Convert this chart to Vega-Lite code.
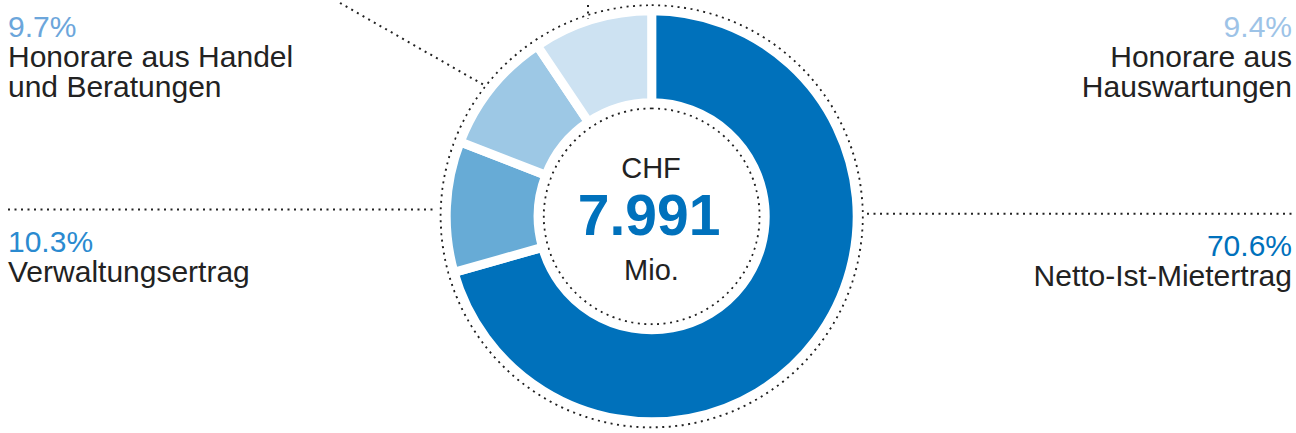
{
  "$schema": "https://vega.github.io/schema/vega-lite/v6.json",
  "width": 1296,
  "height": 433,
  "autosize": {"type": "fit", "contains": "padding"},
  "padding": 0,
  "background": "white",
  "config": {"view": {"stroke": null}, "text": {"font": "Liberation Sans"}},
  "datasets": {
    "revenue": [
      {"category": "Netto-Ist-Mietertrag", "share": 0.706, "label": "Netto-Ist-Mietertrag"},
      {"category": "Verwaltungsertrag", "share": 0.103, "label": "Verwaltungsertrag"},
      {"category": "Honorare aus Handel und Beratungen", "share": 0.097, "label": "Honorare aus Handel\nund Beratungen"},
      {"category": "Honorare aus Hauswartungen", "share": 0.094, "label": "Honorare aus\nHauswartungen"}
    ],
    "total": [{"currency": "CHF", "value": "7.991", "unit": "Mio."}]
  },
  "data": {"name": "revenue"},
  "layer": [
    {
      "transform": [{"filter": "datum.category == 'Netto-Ist-Mietertrag'"}],
      "mark": {"type": "arc", "radius": 211, "theta": 0, "theta2": 6.2832, "filled": false, "stroke": "#222222", "strokeWidth": 2, "strokeDash": [2, 4.5]},
      "encoding": {
        "x": {"datum": 651.7, "type": "quantitative", "scale": {"domain": [0, 1296], "nice": false, "zero": false}, "axis": null},
        "y": {"datum": 221, "type": "quantitative", "scale": {"domain": [0, 433], "nice": false, "zero": false, "reverse": true}, "axis": null}
      }
    },
    {
      "transform": [{"filter": "datum.category == 'Netto-Ist-Mietertrag'"}],
      "mark": {"type": "arc", "radius": 108, "theta": 0, "theta2": 6.2832, "filled": false, "stroke": "#222222", "strokeWidth": 2, "strokeDash": [2, 4.5]},
      "encoding": {
        "x": {"datum": 651.7, "type": "quantitative", "scale": {"domain": [0, 1296], "nice": false, "zero": false}, "axis": null},
        "y": {"datum": 221, "type": "quantitative", "scale": {"domain": [0, 433], "nice": false, "zero": false, "reverse": true}, "axis": null}
      }
    },
    {
      "mark": {"type": "arc", "radius": 205.5, "radius2": 113.5, "stroke": "white", "strokeWidth": 9},
      "encoding": {
        "theta": {"field": "share", "type": "quantitative", "stack": true},
        "order": {"field": "share", "sort": "descending"},
        "color": {
          "field": "category",
          "type": "nominal",
          "scale": {
            "domain": ["Netto-Ist-Mietertrag", "Verwaltungsertrag", "Honorare aus Handel und Beratungen", "Honorare aus Hauswartungen"],
            "range": ["#0071BB", "#67ABD6", "#9DC8E5", "#CDE2F2"]
          },
          "legend": null
        },
        "x": {"datum": 651.7, "type": "quantitative", "scale": {"domain": [0, 1296], "nice": false, "zero": false}, "axis": null},
        "y": {"datum": 221, "type": "quantitative", "scale": {"domain": [0, 433], "nice": false, "zero": false, "reverse": true}, "axis": null}
      }
    },
    {
      "transform": [{"filter": "datum.category == 'Verwaltungsertrag'"}],
      "mark": {"type": "rule", "stroke": "#222222", "strokeWidth": 2, "strokeDash": [2, 4.5]},
      "encoding": {
        "x": {"datum": 8, "type": "quantitative", "scale": {"domain": [0, 1296], "nice": false, "zero": false}, "axis": null},
        "x2": {"datum": 437},
        "y": {"datum": 214, "type": "quantitative", "scale": {"domain": [0, 433], "nice": false, "zero": false, "reverse": true}, "axis": null},
        "y2": {"datum": 214}
      }
    },
    {
      "transform": [{"filter": "datum.category == 'Netto-Ist-Mietertrag'"}],
      "mark": {"type": "rule", "stroke": "#222222", "strokeWidth": 2, "strokeDash": [2, 4.5]},
      "encoding": {
        "x": {"datum": 867, "type": "quantitative", "scale": {"domain": [0, 1296], "nice": false, "zero": false}, "axis": null},
        "x2": {"datum": 1293},
        "y": {"datum": 218.3, "type": "quantitative", "scale": {"domain": [0, 433], "nice": false, "zero": false, "reverse": true}, "axis": null},
        "y2": {"datum": 218.3}
      }
    },
    {
      "transform": [{"filter": "datum.category == 'Honorare aus Handel und Beratungen'"}],
      "mark": {"type": "rule", "stroke": "#222222", "strokeWidth": 2, "strokeDash": [2, 4.5]},
      "encoding": {
        "x": {"datum": 340, "type": "quantitative", "scale": {"domain": [0, 1296], "nice": false, "zero": false}, "axis": null},
        "x2": {"datum": 484},
        "y": {"datum": 0, "type": "quantitative", "scale": {"domain": [0, 433], "nice": false, "zero": false, "reverse": true}, "axis": null},
        "y2": {"datum": 85}
      }
    },
    {
      "transform": [{"filter": "datum.category == 'Honorare aus Hauswartungen'"}],
      "mark": {"type": "rule", "stroke": "#222222", "strokeWidth": 2, "strokeDash": [2, 4.5]},
      "encoding": {
        "x": {"datum": 588, "type": "quantitative", "scale": {"domain": [0, 1296], "nice": false, "zero": false}, "axis": null},
        "x2": {"datum": 588},
        "y": {"datum": 2, "type": "quantitative", "scale": {"domain": [0, 433], "nice": false, "zero": false, "reverse": true}, "axis": null},
        "y2": {"datum": 16}
      }
    },
    {
      "transform": [{"filter": "datum.category == 'Honorare aus Handel und Beratungen'"}],
      "mark": {"type": "text", "align": "left", "baseline": "alphabetic", "fontSize": 30, "color": "#6CA6DB"},
      "encoding": {
        "text": {"field": "share", "type": "quantitative", "format": ".1%"},
        "x": {"datum": 8, "type": "quantitative", "scale": {"domain": [0, 1296], "nice": false, "zero": false}, "axis": null},
        "y": {"datum": 35, "type": "quantitative", "scale": {"domain": [0, 433], "nice": false, "zero": false, "reverse": true}, "axis": null}
      }
    },
    {
      "transform": [{"filter": "datum.category == 'Honorare aus Handel und Beratungen'"}],
      "mark": {"type": "text", "align": "left", "baseline": "alphabetic", "fontSize": 30, "color": "#222222", "lineBreak": "\n", "lineHeight": 30},
      "encoding": {
        "text": {"field": "label", "type": "nominal"},
        "x": {"datum": 8, "type": "quantitative", "scale": {"domain": [0, 1296], "nice": false, "zero": false}, "axis": null},
        "y": {"datum": 66.7, "type": "quantitative", "scale": {"domain": [0, 433], "nice": false, "zero": false, "reverse": true}, "axis": null}
      }
    },
    {
      "transform": [{"filter": "datum.category == 'Honorare aus Hauswartungen'"}],
      "mark": {"type": "text", "align": "right", "baseline": "alphabetic", "fontSize": 30, "color": "#9DC3E7"},
      "encoding": {
        "text": {"field": "share", "type": "quantitative", "format": ".1%"},
        "x": {"datum": 1292, "type": "quantitative", "scale": {"domain": [0, 1296], "nice": false, "zero": false}, "axis": null},
        "y": {"datum": 35, "type": "quantitative", "scale": {"domain": [0, 433], "nice": false, "zero": false, "reverse": true}, "axis": null}
      }
    },
    {
      "transform": [{"filter": "datum.category == 'Honorare aus Hauswartungen'"}],
      "mark": {"type": "text", "align": "right", "baseline": "alphabetic", "fontSize": 30, "color": "#222222", "lineBreak": "\n", "lineHeight": 30},
      "encoding": {
        "text": {"field": "label", "type": "nominal"},
        "x": {"datum": 1292, "type": "quantitative", "scale": {"domain": [0, 1296], "nice": false, "zero": false}, "axis": null},
        "y": {"datum": 66.7, "type": "quantitative", "scale": {"domain": [0, 433], "nice": false, "zero": false, "reverse": true}, "axis": null}
      }
    },
    {
      "transform": [{"filter": "datum.category == 'Verwaltungsertrag'"}],
      "mark": {"type": "text", "align": "left", "baseline": "alphabetic", "fontSize": 30, "color": "#2A8AD0"},
      "encoding": {
        "text": {"field": "share", "type": "quantitative", "format": ".1%"},
        "x": {"datum": 8, "type": "quantitative", "scale": {"domain": [0, 1296], "nice": false, "zero": false}, "axis": null},
        "y": {"datum": 258, "type": "quantitative", "scale": {"domain": [0, 433], "nice": false, "zero": false, "reverse": true}, "axis": null}
      }
    },
    {
      "transform": [{"filter": "datum.category == 'Verwaltungsertrag'"}],
      "mark": {"type": "text", "align": "left", "baseline": "alphabetic", "fontSize": 30, "color": "#222222", "lineBreak": "\n", "lineHeight": 30},
      "encoding": {
        "text": {"field": "label", "type": "nominal"},
        "x": {"datum": 8, "type": "quantitative", "scale": {"domain": [0, 1296], "nice": false, "zero": false}, "axis": null},
        "y": {"datum": 289, "type": "quantitative", "scale": {"domain": [0, 433], "nice": false, "zero": false, "reverse": true}, "axis": null}
      }
    },
    {
      "transform": [{"filter": "datum.category == 'Netto-Ist-Mietertrag'"}],
      "mark": {"type": "text", "align": "right", "baseline": "alphabetic", "fontSize": 30, "color": "#0071BC"},
      "encoding": {
        "text": {"field": "share", "type": "quantitative", "format": ".1%"},
        "x": {"datum": 1292, "type": "quantitative", "scale": {"domain": [0, 1296], "nice": false, "zero": false}, "axis": null},
        "y": {"datum": 262.5, "type": "quantitative", "scale": {"domain": [0, 433], "nice": false, "zero": false, "reverse": true}, "axis": null}
      }
    },
    {
      "transform": [{"filter": "datum.category == 'Netto-Ist-Mietertrag'"}],
      "mark": {"type": "text", "align": "right", "baseline": "alphabetic", "fontSize": 30, "color": "#222222", "lineBreak": "\n", "lineHeight": 30},
      "encoding": {
        "text": {"field": "label", "type": "nominal"},
        "x": {"datum": 1292, "type": "quantitative", "scale": {"domain": [0, 1296], "nice": false, "zero": false}, "axis": null},
        "y": {"datum": 293.5, "type": "quantitative", "scale": {"domain": [0, 433], "nice": false, "zero": false, "reverse": true}, "axis": null}
      }
    },
    {
      "data": {"name": "total"},
      "mark": {"type": "text", "align": "center", "baseline": "alphabetic", "fontSize": 29, "color": "#222222"},
      "encoding": {
        "text": {"field": "currency", "type": "nominal"},
        "x": {"datum": 651, "type": "quantitative", "scale": {"domain": [0, 1296], "nice": false, "zero": false}, "axis": null},
        "y": {"datum": 181.7, "type": "quantitative", "scale": {"domain": [0, 433], "nice": false, "zero": false, "reverse": true}, "axis": null}
      }
    },
    {
      "data": {"name": "total"},
      "mark": {"type": "text", "align": "center", "baseline": "alphabetic", "fontSize": 57, "fontWeight": "bold", "color": "#0071BC"},
      "encoding": {
        "text": {"field": "value", "type": "nominal"},
        "x": {"datum": 649, "type": "quantitative", "scale": {"domain": [0, 1296], "nice": false, "zero": false}, "axis": null},
        "y": {"datum": 240, "type": "quantitative", "scale": {"domain": [0, 433], "nice": false, "zero": false, "reverse": true}, "axis": null}
      }
    },
    {
      "data": {"name": "total"},
      "mark": {"type": "text", "align": "center", "baseline": "alphabetic", "fontSize": 29, "color": "#222222"},
      "encoding": {
        "text": {"field": "unit", "type": "nominal"},
        "x": {"datum": 651.5, "type": "quantitative", "scale": {"domain": [0, 1296], "nice": false, "zero": false}, "axis": null},
        "y": {"datum": 286.7, "type": "quantitative", "scale": {"domain": [0, 433], "nice": false, "zero": false, "reverse": true}, "axis": null}
      }
    }
  ]
}
